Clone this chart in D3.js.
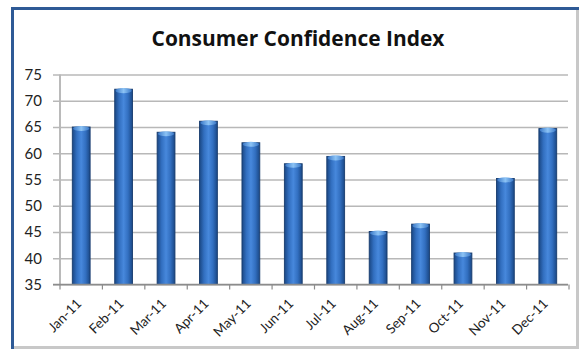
<!DOCTYPE html>
<html>
<head>
<meta charset="utf-8">
<script src="https://cdn.jsdelivr.net/npm/d3@7"></script>
<style>
  html, body { margin: 0; padding: 0; background: #ffffff; }
  svg { display: block; }
</style>
</head>
<body>
<svg id="chart" width="583" height="350"></svg>
<script>
const months = ["Jan-11","Feb-11","Mar-11","Apr-11","May-11","Jun-11","Jul-11","Aug-11","Sep-11","Oct-11","Nov-11","Dec-11"];
const values = [65, 72.2, 64, 66.1, 62, 58, 59.4, 45.1, 46.5, 41, 55.2, 64.7];
const yTicks = [35, 40, 45, 50, 55, 60, 65, 70, 75];
const title = "Consumer Confidence Index";

const svg = d3.select("#chart");
const font = "Lato, 'Open Sans', 'DejaVu Sans', sans-serif";

const defs = svg.append("defs");
const g1 = defs.append("linearGradient").attr("id", "barGrad").attr("x1", "0%").attr("x2", "100%").attr("y1", "0%").attr("y2", "0%");
[["0%", "#1a4784"], ["25%", "#326fc0"], ["50%", "#4788dc"], ["75%", "#326fc0"], ["100%", "#1a4784"]]
  .forEach(([o, c]) => g1.append("stop").attr("offset", o).attr("stop-color", c));
const g2 = defs.append("linearGradient").attr("id", "capGrad").attr("x1", "0%").attr("x2", "100%");
[["0%", "#3a78c8"], ["50%", "#8cc3f5"], ["100%", "#3a78c8"]]
  .forEach(([o, c]) => g2.append("stop").attr("offset", o).attr("stop-color", c));

// frame
svg.append("rect").attr("x", 0).attr("y", 0).attr("width", 583).attr("height", 350).attr("fill", "#ffffff");
svg.append("line").attr("x1", 577.5).attr("x2", 577.5).attr("y1", 8).attr("y2", 348).attr("stroke", "#c8c8c8").attr("stroke-width", 3);
svg.append("line").attr("x1", 12).attr("x2", 579).attr("y1", 347.5).attr("y2", 347.5).attr("stroke", "#c8c8c8").attr("stroke-width", 3);
svg.append("line").attr("x1", 12.5).attr("x2", 12.5).attr("y1", 7).attr("y2", 349).attr("stroke", "#2e5a96").attr("stroke-width", 3);
svg.append("line").attr("x1", 11).attr("x2", 579).attr("y1", 8.5).attr("y2", 8.5).attr("stroke", "#2e5a96").attr("stroke-width", 3);

const x = d3.scaleBand().domain(months).range([60, 569]).paddingInner(0.58).paddingOuter(0.29);
const y = d3.scaleLinear().domain([35, 75]).range([284.5, 74.5]);

// title
const t = svg.append("text").attr("x", 298).attr("y", 46).attr("text-anchor", "middle")
  .attr("font-family", "'Open Sans', Lato, sans-serif").attr("font-weight", "bold").attr("font-size", 20).attr("fill", "#111")
  .text(title);
const tl = t.node().getComputedTextLength();
t.attr("font-size", Math.min(21, 20 * 293 / tl));

// gridlines + y axis
const yAxis = d3.axisLeft(y).tickValues(yTicks).tickSize(-(568 - 60)).tickPadding(18).tickFormat(d3.format("d"));
const ga = svg.append("g").attr("transform", "translate(60,0)").call(yAxis);
ga.select(".domain").attr("stroke", "#8c8c8c").attr("stroke-width", 1.2).attr("d", `M0,${y(75)}V${y(35)}`);
ga.selectAll(".tick line").attr("stroke", "#b8b8b8").attr("stroke-width", 1.3).attr("x1", -7);
ga.selectAll(".tick text").attr("x", -18).attr("text-anchor", "end")
  .attr("font-family", font).attr("font-size", 15).attr("fill", "#222");

// bars
const bw = x.bandwidth();
const bars = svg.append("g");
months.forEach((m, i) => {
  const x0 = x(m), top = y(values[i]);
  bars.append("rect").attr("x", x0).attr("y", top).attr("width", bw).attr("height", y(35) - top)
    .attr("fill", "url(#barGrad)").attr("stroke", "#183c6e").attr("stroke-width", 0.9);
  bars.append("ellipse").attr("cx", x0 + bw / 2).attr("cy", top + 1.5).attr("rx", bw / 2 - 0.8).attr("ry", 2.6)
    .attr("fill", "url(#capGrad)");
});

// x axis
const step = x.step();
const xa = svg.append("g");
xa.append("line").attr("x1", 53).attr("x2", 568).attr("y1", y(35)).attr("y2", y(35)).attr("stroke", "#8c8c8c").attr("stroke-width", 1.3);
d3.range(13).forEach(i => {
  const tx = 60 + i * step;
  xa.append("line").attr("x1", tx).attr("x2", tx).attr("y1", y(35)).attr("y2", y(35) + 5).attr("stroke", "#8c8c8c").attr("stroke-width", 1.2);
});
months.forEach(m => {
  const cx = x(m) + bw / 2 + 1;
  xa.append("text").attr("transform", `translate(${cx},${y(35) + 20}) rotate(-45)`)
    .attr("text-anchor", "end").attr("font-family", font).attr("font-size", 13.5).attr("fill", "#222")
    .text(m);
});
</script>
</body>
</html>
